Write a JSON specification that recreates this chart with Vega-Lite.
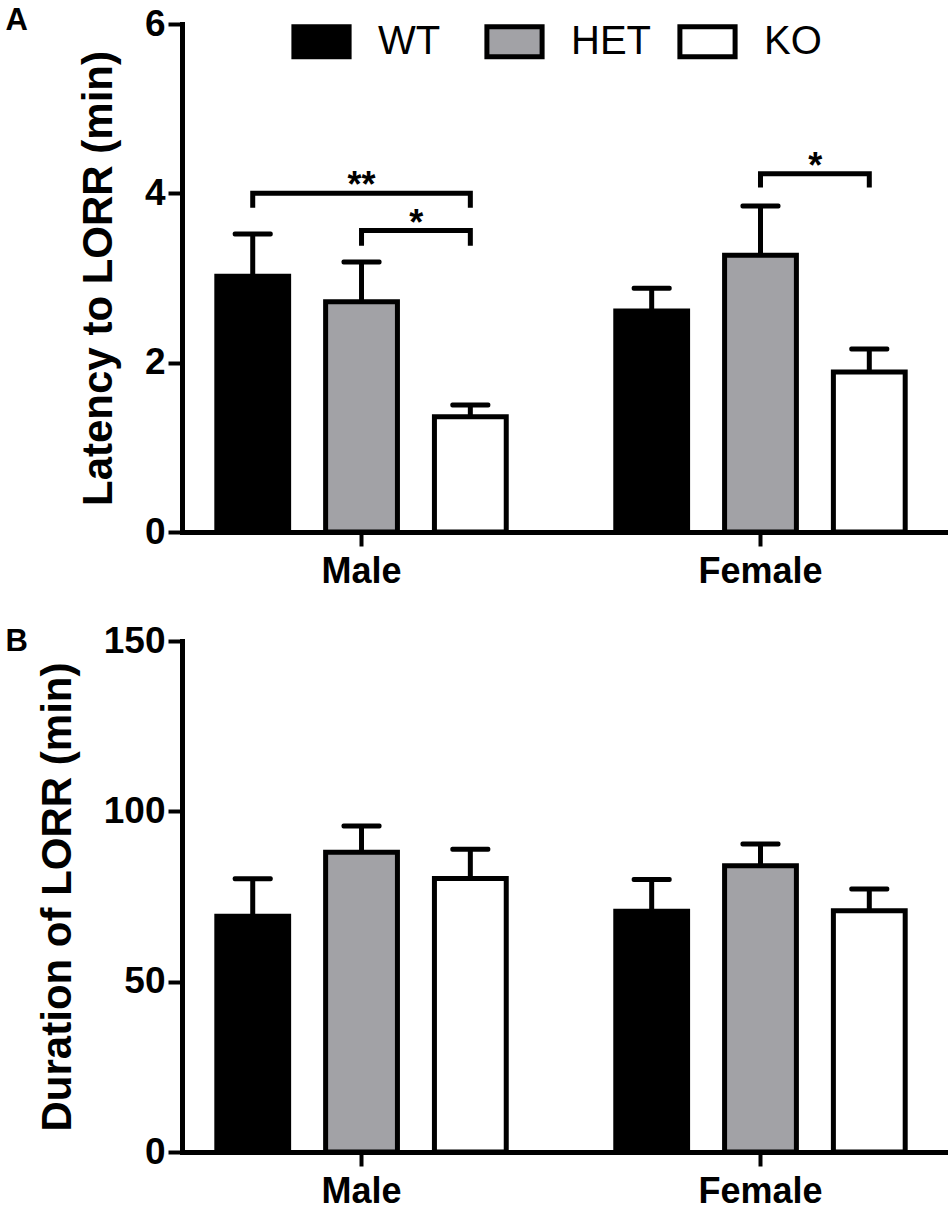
{
  "$schema": "https://vega.github.io/schema/vega-lite/v6.json",
  "background": "white",
  "padding": {"left": 5, "top": 4, "right": 0, "bottom": 0},
  "config": {
    "font": "Liberation Sans",
    "view": {"stroke": null},
    "axis": {
      "grid": false,
      "domainColor": "black",
      "domainWidth": 5,
      "domainCap": "square",
      "tickColor": "black",
      "tickWidth": 4,
      "tickSize": 14,
      "labelColor": "black",
      "labelFont": "Liberation Sans",
      "labelFontWeight": "bold",
      "titleColor": "black",
      "titleFont": "Liberation Sans",
      "titleFontWeight": "bold"
    },
    "axisX": {"labelFontSize": 36, "labelPadding": 8, "labelAngle": 0},
    "axisY": {"labelFontSize": 37, "labelPadding": 3, "titleFontSize": 42, "titlePadding": 24, "format": "d"}
  },
  "datasets": {
    "latency": [
      {"sex": "Male", "genotype": "WT", "mean": 3.02, "upper": 3.52},
      {"sex": "Male", "genotype": "HET", "mean": 2.72, "upper": 3.19},
      {"sex": "Male", "genotype": "KO", "mean": 1.36, "upper": 1.5},
      {"sex": "Female", "genotype": "WT", "mean": 2.61, "upper": 2.88},
      {"sex": "Female", "genotype": "HET", "mean": 3.27, "upper": 3.85},
      {"sex": "Female", "genotype": "KO", "mean": 1.89, "upper": 2.16}
    ],
    "duration": [
      {"sex": "Male", "genotype": "WT", "mean": 69.2, "upper": 80.2},
      {"sex": "Male", "genotype": "HET", "mean": 88.0, "upper": 95.7},
      {"sex": "Male", "genotype": "KO", "mean": 80.3, "upper": 88.9},
      {"sex": "Female", "genotype": "WT", "mean": 70.7, "upper": 80.0},
      {"sex": "Female", "genotype": "HET", "mean": 84.0, "upper": 90.4},
      {"sex": "Female", "genotype": "KO", "mean": 70.8, "upper": 77.2}
    ],
    "brackets": [
      {"id": "m1", "sex": "Male", "genotype": "WT", "y": 3.83, "order": 0},
      {"id": "m1", "sex": "Male", "genotype": "WT", "y": 4.0, "order": 1},
      {"id": "m1", "sex": "Male", "genotype": "KO", "y": 4.0, "order": 2},
      {"id": "m1", "sex": "Male", "genotype": "KO", "y": 3.83, "order": 3},
      {"id": "m2", "sex": "Male", "genotype": "HET", "y": 3.38, "order": 0},
      {"id": "m2", "sex": "Male", "genotype": "HET", "y": 3.56, "order": 1},
      {"id": "m2", "sex": "Male", "genotype": "KO", "y": 3.56, "order": 2},
      {"id": "m2", "sex": "Male", "genotype": "KO", "y": 3.38, "order": 3},
      {"id": "f1", "sex": "Female", "genotype": "HET", "y": 4.07, "order": 0},
      {"id": "f1", "sex": "Female", "genotype": "HET", "y": 4.23, "order": 1},
      {"id": "f1", "sex": "Female", "genotype": "KO", "y": 4.23, "order": 2},
      {"id": "f1", "sex": "Female", "genotype": "KO", "y": 4.07, "order": 3}
    ],
    "stars": [
      {"sex": "Male", "genotype": "HET", "y": 4.0, "label": "**"},
      {"sex": "Male", "genotype": "KO", "y": 3.56, "label": "*"},
      {"sex": "Female", "genotype": "KO", "y": 4.23, "label": "*"}
    ]
  },
  "resolve": {"scale": {"fill": "independent"}, "legend": {"fill": "independent"}},
  "spacing": 33,
  "vconcat": [
    {
      "width": 766,
      "height": 508,
      "resolve": {"axis": {"x": "independent"}},
      "layer": [
        {
          "data": {"name": "latency"},
          "mark": {"type": "bar", "stroke": "black", "strokeWidth": 5},
          "encoding": {
            "x": {
              "field": "sex", "type": "nominal", "sort": ["Male", "Female"],
              "scale": {"paddingInner": 0.1, "paddingOuter": 0.01, "align": 0},
              "axis": {"title": null, "orient": "bottom", "bandPosition": 0.5}
            },
            "xOffset": {
              "field": "genotype", "type": "nominal", "sort": ["WT", "HET", "KO"],
              "scale": {"paddingInner": 0.34, "paddingOuter": 0.32}
            },
            "y": {
              "field": "mean", "type": "quantitative",
              "scale": {"domain": [0, 6], "nice": false},
              "axis": {"values": [0, 2, 4, 6], "title": "Latency to LORR (min)"}
            },
            "fill": {
              "field": "genotype", "type": "nominal",
              "scale": {"domain": ["WT", "HET", "KO"], "range": ["black", "#a2a2a6", "white"]},
              "legend": {
                "title": null,
                "orient": "none",
                "legendX": 107,
                "legendY": -15,
                "direction": "horizontal",
                "gridAlign": "all",
                "columnPadding": 18,
                "padding": 0,
                "symbolType": "M-0.92,-0.5H0.92V0.5H-0.92Z",
                "symbolSize": 3600,
                "symbolStrokeColor": "black",
                "symbolStrokeWidth": 5,
                "symbolOpacity": 1,
                "labelFontSize": 40,
                "labelFontWeight": "normal",
                "labelColor": "black",
                "labelOffset": 24,
                "labelLimit": 200,
                "encode": {"symbols": {"update": {"stroke": {"value": "black"}, "strokeWidth": {"value": 5}}}}
              }
            }
          }
        },
        {
          "data": {"name": "latency"},
          "mark": {"type": "rule", "color": "black", "strokeWidth": 5},
          "encoding": {
            "x": {
              "field": "sex", "type": "nominal", "sort": ["Male", "Female"],
              "axis": {
                "orient": "top", "domain": false, "ticks": false, "labels": false,
                "title": "A", "titleX": -177, "titleY": 5, "titleAngle": 0,
                "titleAlign": "left", "titleBaseline": "alphabetic",
                "titleFontSize": 31, "titleFontWeight": "bold"
              }
            },
            "xOffset": {"field": "genotype", "type": "nominal", "sort": ["WT", "HET", "KO"]},
            "y": {"field": "mean", "type": "quantitative"},
            "y2": {"field": "upper"}
          }
        },
        {
          "data": {"name": "latency"},
          "mark": {"type": "tick", "color": "black", "orient": "horizontal", "size": 40, "thickness": 5, "opacity": 1, "cornerRadius": 2},
          "encoding": {
            "x": {"field": "sex", "type": "nominal", "sort": ["Male", "Female"], "axis": null},
            "xOffset": {"field": "genotype", "type": "nominal", "sort": ["WT", "HET", "KO"]},
            "y": {"field": "upper", "type": "quantitative"}
          }
        },
        {
          "data": {"name": "brackets"},
          "mark": {"type": "line", "color": "black", "strokeWidth": 5, "strokeJoin": "miter"},
          "encoding": {
            "x": {"field": "sex", "type": "nominal", "sort": ["Male", "Female"], "axis": null},
            "xOffset": {"field": "genotype", "type": "nominal", "sort": ["WT", "HET", "KO"]},
            "y": {"field": "y", "type": "quantitative"},
            "detail": {"field": "id"},
            "order": {"field": "order"}
          }
        },
        {
          "data": {"name": "stars"},
          "transform": [{"filter": "datum.label === '**'"}],
          "mark": {"type": "text", "fontSize": 36, "fontWeight": "bold", "color": "black", "baseline": "alphabetic", "dy": 4},
          "encoding": {
            "x": {"field": "sex", "type": "nominal", "sort": ["Male", "Female"], "axis": null},
            "xOffset": {"field": "genotype", "type": "nominal", "sort": ["WT", "HET", "KO"]},
            "y": {"field": "y", "type": "quantitative"},
            "text": {"field": "label"}
          }
        },
        {
          "data": {"name": "stars"},
          "transform": [{"filter": "datum.label === '*'"}],
          "mark": {"type": "text", "fontSize": 36, "fontWeight": "bold", "color": "black", "baseline": "alphabetic", "dy": 4, "dx": -54},
          "encoding": {
            "x": {"field": "sex", "type": "nominal", "sort": ["Male", "Female"], "axis": null},
            "xOffset": {"field": "genotype", "type": "nominal", "sort": ["WT", "HET", "KO"]},
            "y": {"field": "y", "type": "quantitative"},
            "text": {"field": "label"}
          }
        }
      ]
    },
    {
      "width": 766,
      "height": 511,
      "resolve": {"axis": {"x": "independent"}},
      "layer": [
        {
          "data": {"name": "duration"},
          "mark": {"type": "bar", "stroke": "black", "strokeWidth": 5},
          "encoding": {
            "x": {
              "field": "sex", "type": "nominal", "sort": ["Male", "Female"],
              "scale": {"paddingInner": 0.1, "paddingOuter": 0.01, "align": 0},
              "axis": {"title": null, "orient": "bottom", "bandPosition": 0.5}
            },
            "xOffset": {
              "field": "genotype", "type": "nominal", "sort": ["WT", "HET", "KO"],
              "scale": {"paddingInner": 0.34, "paddingOuter": 0.32}
            },
            "y": {
              "field": "mean", "type": "quantitative",
              "scale": {"domain": [0, 150], "nice": false},
              "axis": {"values": [0, 50, 100, 150], "title": "Duration of LORR (min)"}
            },
            "fill": {
              "field": "genotype", "type": "nominal",
              "scale": {"domain": ["WT", "HET", "KO"], "range": ["black", "#a2a2a6", "white"]},
              "legend": null
            }
          }
        },
        {
          "data": {"name": "duration"},
          "mark": {"type": "rule", "color": "black", "strokeWidth": 5},
          "encoding": {
            "x": {
              "field": "sex", "type": "nominal", "sort": ["Male", "Female"],
              "axis": {
                "orient": "top", "domain": false, "ticks": false, "labels": false,
                "title": "B", "titleX": -177, "titleY": 9, "titleAngle": 0,
                "titleAlign": "left", "titleBaseline": "alphabetic",
                "titleFontSize": 31, "titleFontWeight": "bold"
              }
            },
            "xOffset": {"field": "genotype", "type": "nominal", "sort": ["WT", "HET", "KO"]},
            "y": {"field": "mean", "type": "quantitative"},
            "y2": {"field": "upper"}
          }
        },
        {
          "data": {"name": "duration"},
          "mark": {"type": "tick", "color": "black", "orient": "horizontal", "size": 40, "thickness": 5, "opacity": 1, "cornerRadius": 2},
          "encoding": {
            "x": {"field": "sex", "type": "nominal", "sort": ["Male", "Female"], "axis": null},
            "xOffset": {"field": "genotype", "type": "nominal", "sort": ["WT", "HET", "KO"]},
            "y": {"field": "upper", "type": "quantitative"}
          }
        }
      ]
    }
  ]
}
